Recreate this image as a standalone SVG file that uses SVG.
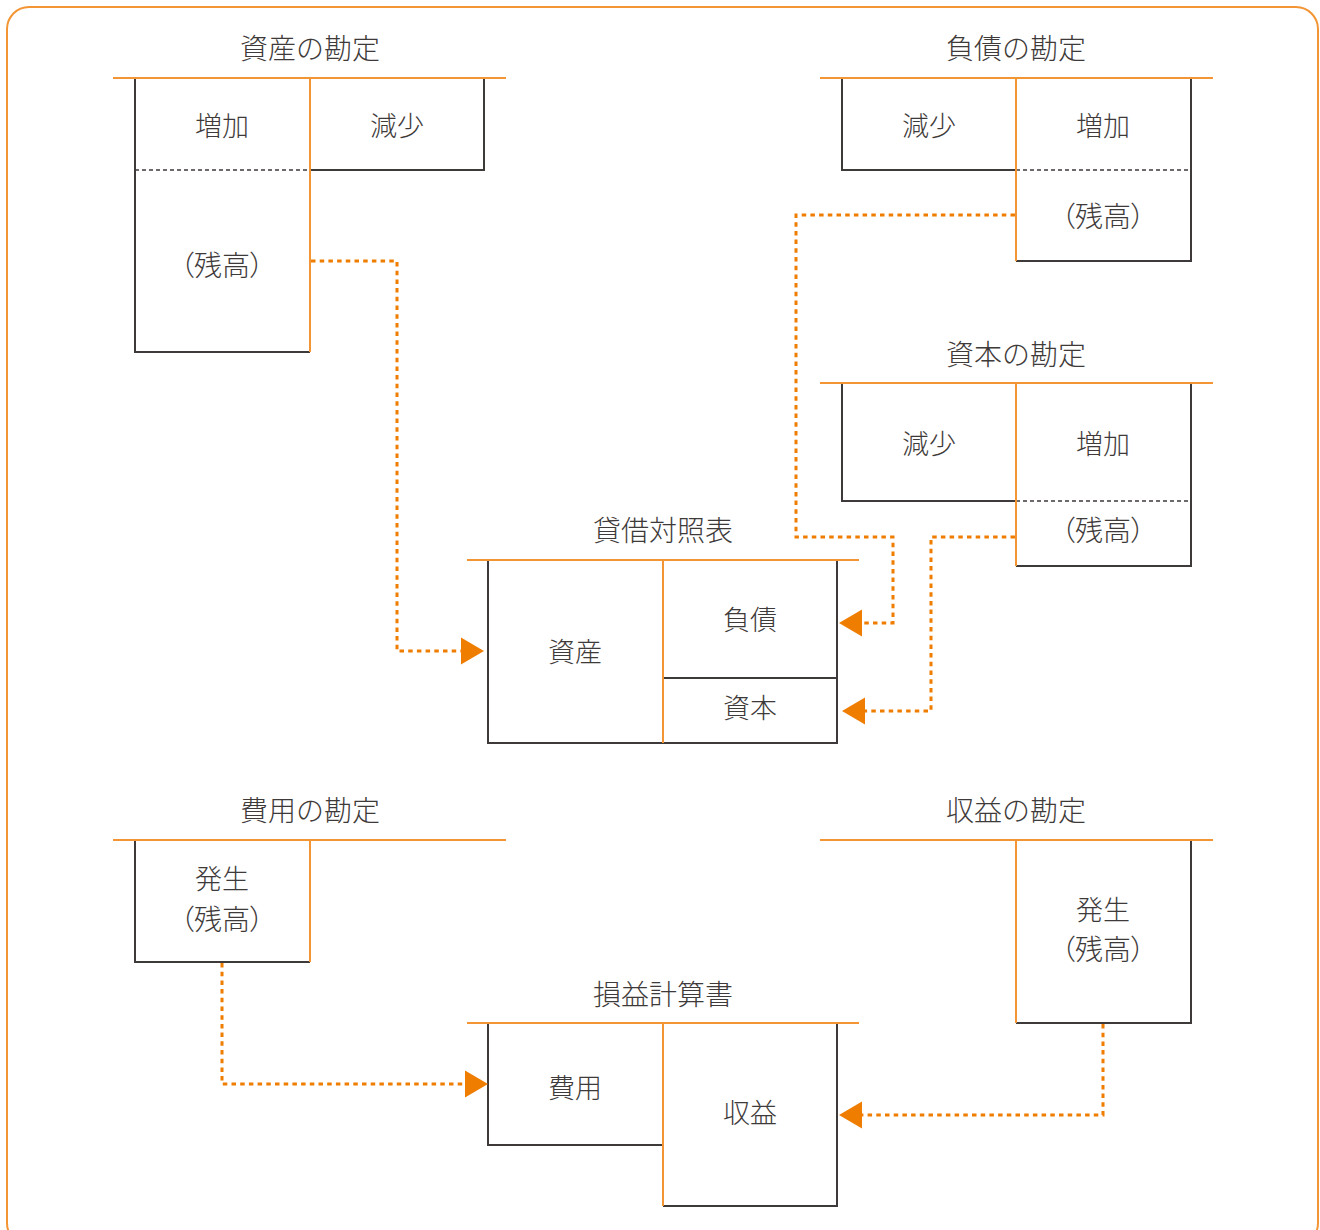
<svg xmlns="http://www.w3.org/2000/svg" width="1320" height="1230" viewBox="0 0 1320 1230">
<style>
text{font-family:"Noto Sans CJK JP","Noto Sans CJK SC",sans-serif;font-size:27px;font-weight:300;fill:#3e3a39;text-anchor:middle;dominant-baseline:central;}
.t{font-size:28px;}
.p{font-feature-settings:"palt";font-size:28px;}
.dk{stroke:#3e3a39;stroke-width:2;fill:none;}
.or{stroke:#f39534;stroke-width:2;fill:none;}
.ds{stroke:#3e3a39;stroke-width:1.5;stroke-dasharray:4 3;fill:none;}
.cn{stroke:#ef7d00;stroke-width:3;stroke-dasharray:4.5 4.2;fill:none;}
.ah{fill:#ef7d00;}
</style>
<rect x="7" y="7" width="1311" height="1238" rx="22" ry="22" fill="#fff" stroke="#f39534" stroke-width="2"/>

<g id="asset-account">
<text class="t" x="310" y="47">資産の勘定</text>
<path class="dk" d="M310,170 H484 V78 M135,78 V352 H310"/>
<path class="ds" d="M135,170 H310"/>
<path class="or" d="M310,78 V352 M113,78 H506"/>
<text x="222" y="124">増加</text>
<text x="397" y="124">減少</text>
<text class="p" x="222" y="264">（残高）</text>
</g>

<g id="liability-account">
<text class="t" x="1016" y="47">負債の勘定</text>
<path class="dk" d="M1016,170 H842 V78 M1191,78 V261 H1016"/>
<path class="ds" d="M1016,170 H1191"/>
<path class="or" d="M1016,78 V261 M820,78 H1213"/>
<text x="929" y="124">減少</text>
<text x="1103" y="124">増加</text>
<text class="p" x="1103" y="215">（残高）</text>
</g>

<g id="capital-account">
<text class="t" x="1016" y="353">資本の勘定</text>
<path class="dk" d="M1016,501 H842 V383 M1191,383 V566 H1016"/>
<path class="ds" d="M1016,501 H1191"/>
<path class="or" d="M1016,383 V566 M820,383 H1213"/>
<text x="929" y="442">減少</text>
<text x="1103" y="442">増加</text>
<text class="p" x="1103" y="529">（残高）</text>
</g>

<g id="balance-sheet">
<text class="t" x="663" y="529">貸借対照表</text>
<path class="dk" d="M488,560 V743 H837 V560 M663,678 H837"/>
<path class="or" d="M663,560 V743 M467,560 H859"/>
<text x="575" y="650">資産</text>
<text x="750" y="618">負債</text>
<text x="750" y="706">資本</text>
</g>

<g id="expense-account">
<text class="t" x="310" y="809">費用の勘定</text>
<path class="dk" d="M135,840 V962 H310"/>
<path class="or" d="M310,840 V962 M113,840 H506"/>
<text x="222" y="877">発生</text>
<text class="p" x="222" y="918">（残高）</text>
</g>

<g id="revenue-account">
<text class="t" x="1016" y="809">収益の勘定</text>
<path class="dk" d="M1191,840 V1023 H1016"/>
<path class="or" d="M1016,840 V1023 M820,840 H1213"/>
<text x="1103" y="908">発生</text>
<text class="p" x="1103" y="948">（残高）</text>
</g>

<g id="income-statement">
<text class="t" x="663" y="993">損益計算書</text>
<path class="dk" d="M488,1023 V1145 H663 M663,1206 H837 V1023"/>
<path class="or" d="M663,1023 V1206 M467,1023 H859"/>
<text x="575" y="1086">費用</text>
<text x="750" y="1111">収益</text>
</g>

<g id="connectors">
<path class="cn" d="M311,261 H397 V651 H461"/>
<polygon class="ah" points="484,651 461,637.5 461,664.5"/>
<path class="cn" d="M1015,215 H796 V537 H893 V623 H861"/>
<polygon class="ah" points="839,623 862,609.5 862,636.5"/>
<path class="cn" d="M1015,537 H931 V711 H862"/>
<polygon class="ah" points="842,711 865,697.5 865,724.5"/>
<path class="cn" d="M222,963 V1084 H465"/>
<polygon class="ah" points="488,1084 465,1070.5 465,1097.5"/>
<path class="cn" d="M1103,1024 V1115 H862"/>
<polygon class="ah" points="839,1115 862,1101.5 862,1128.5"/>
</g>
</svg>
